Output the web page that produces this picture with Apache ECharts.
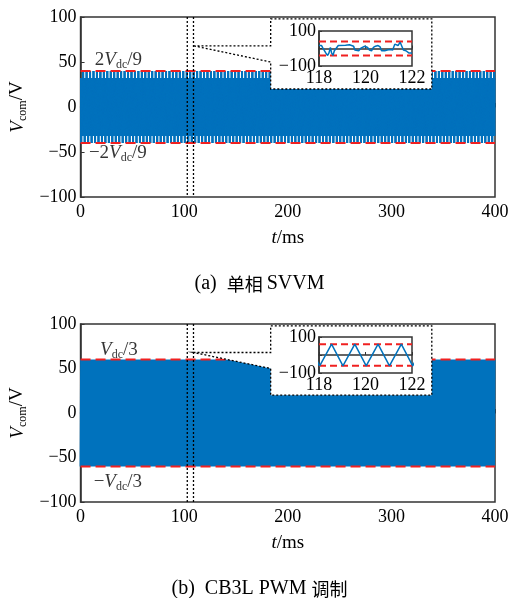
<!DOCTYPE html>
<html>
<head>
<meta charset="utf-8">
<title>Vcom</title>
<script src="https://cdn.jsdelivr.net/npm/echarts@6/dist/echarts.min.js"></script>
<style>
html, body { margin: 0; padding: 0; background: #fff; }
#chart { width: 519px; height: 598px; }
</style>
</head>
<body>
<div id="chart"></div>
<script>
// axis ranges / ticks
var timeMax = 400;
var voltMin = -100, voltMax = 100;
var zoomTMin = 118, zoomTMax = 122;

// red dashed limits
var svvmLimit = 40;   // 2Vdc/9
var cbLimit = 60;     // Vdc/3

// SVVM: switching samples of one sector (10/3 ms), one sample every 1/6 ms
var svvmStep = 1 / 6;
var svvmSector = [32, -40, 32, -40, 32, -40, 32, -40, 32, -32, 32, -32, 40, -32, 40, -32, 40, -32, 40, -32];

// SVVM inset 118-122 ms
var svvmZoomT = [118.00, 118.11, 118.17, 118.23, 118.29, 118.37, 118.43, 118.49, 118.54, 118.60, 118.66, 118.74, 118.83, 118.91,
  119.14, 119.31, 119.49, 119.54, 119.71, 119.80, 119.86, 119.97, 120.09, 120.17, 120.26, 120.34, 120.43, 120.54, 120.63, 120.69,
  120.83, 120.94, 121.06, 121.17, 121.26, 121.31, 121.40, 121.49, 121.57, 121.63, 121.74, 121.86, 122.00];
var svvmZoomV = [17, 17, 2, 9, -25, -40, -25, 6, -25, -40, -13, -9, 17, 21,
  19, 21, 13, -9, -13, 2, 9, 13, 6, -9, -13, 6, 13, 17, 9, -13,
  -13, -9, -6, -9, 25, 36, 17, 36, 32, -9, -13, -25, -25];

// CB3L: triangle, valley and peak inside every 1 ms carrier period
var cbPeriod = 1;
var cbPhase = [0.03, 0.54];
var cbLevel = [-60, 60];

// zoom window lines and callout outline (data units)
var zoomLines = [103, 109];
var calloutPts = [[109, 68], [183.5, 68], [183.5, 98], [339, 98], [339, 20], [183.5, 20], [183.5, 50]];

var blue = '#0072BD', red = '#F02020', axisCol = '#333';
var serif = 'Liberation Serif';

var svvmData = [];
for (var k = 0; k * svvmStep <= timeMax + 1e-9; k++) {
  svvmData.push([k * svvmStep, svvmSector[k % svvmSector.length]]);
}
var cbData = [];
for (var p = 0; p < timeMax; p += cbPeriod) {
  for (var j = 0; j < cbPhase.length; j++) cbData.push([p + cbPhase[j], cbLevel[j]]);
}
var svvmZoom = svvmZoomT.map(function (t, i) { return [t, svvmZoomV[i]]; });
var cbZoom = cbData.filter(function (d) { return d[0] > zoomTMin - 1 && d[0] < zoomTMax + 1; });

function minus(v) { return v < 0 ? '\u2212' + Math.abs(v) : String(v); }

var richText = {
  n: { fontFamily: serif, fontSize: 19, color: '#000', lineHeight: 22 },
  i: { fontFamily: serif, fontSize: 19, fontStyle: 'italic', color: '#000', lineHeight: 22 },
  s: { fontFamily: serif, fontSize: 12, color: '#000', lineHeight: 12, verticalAlign: 'bottom' }
};
var captionRich = {
  t: { fontFamily: serif, fontSize: 20, fontWeight: 'normal', color: '#000' },
  c: { fontFamily: 'Noto Sans CJK SC', fontSize: 18, fontWeight: 'normal', color: '#000' }
};

function calloutItem(params, api) {
  var pts = calloutPts.map(function (pt) { return api.coord(pt); });
  var children = [{
    type: 'polygon', shape: { points: pts },
    style: { fill: '#fff', stroke: '#000', lineWidth: 1.3, lineDash: [2, 2] }
  }];
  zoomLines.forEach(function (t) {
    var a = api.coord([t, voltMax]), b = api.coord([t, voltMin]);
    children.push({
      type: 'line', shape: { x1: a[0], y1: a[1], x2: b[0], y2: b[1] },
      style: { stroke: '#000', lineWidth: 1.3, lineDash: [2, 2] }
    });
  });
  return { type: 'group', children: children };
}

function mainX(gi) {
  return {
    type: 'value', gridIndex: gi, min: 0, max: timeMax, interval: 50,
    name: '{i|t}{n|/ms}', nameLocation: 'middle', nameGap: 30,
    nameTextStyle: { rich: richText },
    axisLine: { show: true, lineStyle: { color: axisCol, width: 1.5 } },
    axisTick: { show: true, inside: true, length: 4, lineStyle: { color: axisCol } },
    axisLabel: { fontFamily: serif, fontSize: 18, color: '#000', margin: 6,
      formatter: function (v) { return v % 100 === 0 ? String(v) : ''; } },
    splitLine: { show: false }
  };
}
function mainY(gi) {
  return {
    type: 'value', gridIndex: gi, min: voltMin, max: voltMax, interval: 50,
    name: '{i|V}{s|com}{n|/V}', nameLocation: 'middle', nameGap: 52,
    nameTextStyle: { rich: richText },
    axisLine: { show: true, lineStyle: { color: axisCol, width: 1.5 } },
    axisTick: { show: true, inside: true, length: 4, lineStyle: { color: axisCol } },
    axisLabel: { fontFamily: serif, fontSize: 18, color: '#000', margin: 4, formatter: minus },
    splitLine: { show: false }
  };
}
function zoomX(gi) {
  return {
    type: 'value', gridIndex: gi, min: zoomTMin, max: zoomTMax, interval: 2, z: 10,
    axisLine: { show: true, lineStyle: { color: axisCol, width: 1.5 } },
    axisTick: { show: true, inside: true, length: 3, lineStyle: { color: axisCol } },
    axisLabel: { fontFamily: serif, fontSize: 18, color: '#000', margin: 3 },
    splitLine: { show: false }
  };
}
function zoomY(gi) {
  return {
    type: 'value', gridIndex: gi, min: voltMin, max: voltMax, interval: 100, z: 10,
    axisLine: { show: true, lineStyle: { color: axisCol, width: 1.5 } },
    axisTick: { show: true, inside: true, length: 3, lineStyle: { color: axisCol } },
    axisLabel: { fontFamily: serif, fontSize: 18, color: '#000', margin: 3,
      formatter: function (v) { return v === 0 ? '' : minus(v); } },
    splitLine: { show: false }
  };
}

function wave(gi, data, width, z) {
  return { type: 'line', xAxisIndex: gi, yAxisIndex: gi, data: data, showSymbol: false, symbol: 'none',
    lineStyle: { color: blue, width: width }, z: z, silent: true, animation: false };
}
function limit(gi, x0, x1, v, dash, z) {
  return { type: 'line', xAxisIndex: gi, yAxisIndex: gi, data: [[x0, v], [x1, v]], showSymbol: false, symbol: 'none',
    lineStyle: { color: red, width: 2, type: dash }, z: z, silent: true, animation: false };
}
function labels(gi, items) {
  return { type: 'scatter', xAxisIndex: gi, yAxisIndex: gi, symbolSize: 0, z: 6, silent: true, animation: false,
    data: items.map(function (it) { return { value: it[0], name: it[1] }; }),
    label: { show: true, position: 'inside', formatter: function (p) { return p.name; }, rich: richText } };
}

var frame = { show: true, borderColor: axisCol, borderWidth: 1.5, backgroundColor: 'transparent' };

var chart = echarts.init(document.getElementById('chart'), null, { renderer: 'canvas' });
chart.setOption({
  animation: false,
  title: [
    { text: '{t|(a)  }{c|单相 }{t|SVVM}', left: 'center', top: 269,
      textStyle: { fontWeight: 'normal', rich: captionRich } },
    { text: '{t|(b)  CB3L PWM }{c|调制}', left: 'center', top: 574,
      textStyle: { fontWeight: 'normal', rich: captionRich } }
  ],
  grid: [
    Object.assign({ left: 80, top: 17, width: 415, height: 180 }, frame),
    Object.assign({ left: 80, top: 324, width: 415, height: 178 }, frame),
    Object.assign({ left: 319, top: 31, width: 93, height: 35, z: 10 }, frame),
    Object.assign({ left: 319, top: 337, width: 93, height: 36, z: 10 }, frame)
  ],
  xAxis: [mainX(0), mainX(1), zoomX(2), zoomX(3)],
  yAxis: [mainY(0), mainY(1), zoomY(2), zoomY(3)],
  series: [
    wave(0, svvmData, 1, 2),
    limit(0, 0, timeMax, svvmLimit, [10, 5], 3),
    limit(0, 0, timeMax, -svvmLimit, [10, 5], 3),
    { type: 'custom', xAxisIndex: 0, yAxisIndex: 0, renderItem: calloutItem, data: [[0, 0]], z: 4, silent: true },
    labels(0, [[[36.6, 52], '{n|2}{i|V}{s|dc}{n|/9}'], [[36, -51], '{n|\u22122}{i|V}{s|dc}{n|/9}']]),

    wave(1, cbData, 2, 2),
    limit(1, 0, timeMax, cbLimit, [10, 5], 3),
    limit(1, 0, timeMax, -cbLimit, [10, 5], 3),
    { type: 'custom', xAxisIndex: 1, yAxisIndex: 1, renderItem: calloutItem, data: [[0, 0]], z: 4, silent: true },
    labels(1, [[[37, 71], '{i|V}{s|dc}{n|/3}'], [[36, -77], '{n|\u2212}{i|V}{s|dc}{n|/3}']]),

    limit(2, zoomTMin, zoomTMax, svvmLimit, [7, 4], 10),
    limit(2, zoomTMin, zoomTMax, -svvmLimit, [7, 4], 10),
    wave(2, svvmZoom, 1.5, 11),
    limit(3, zoomTMin, zoomTMax, cbLimit, [7, 4], 10),
    limit(3, zoomTMin, zoomTMax, -cbLimit, [7, 4], 10),
    wave(3, cbZoom, 1.5, 11)
  ]
});
</script>
</body>
</html>
